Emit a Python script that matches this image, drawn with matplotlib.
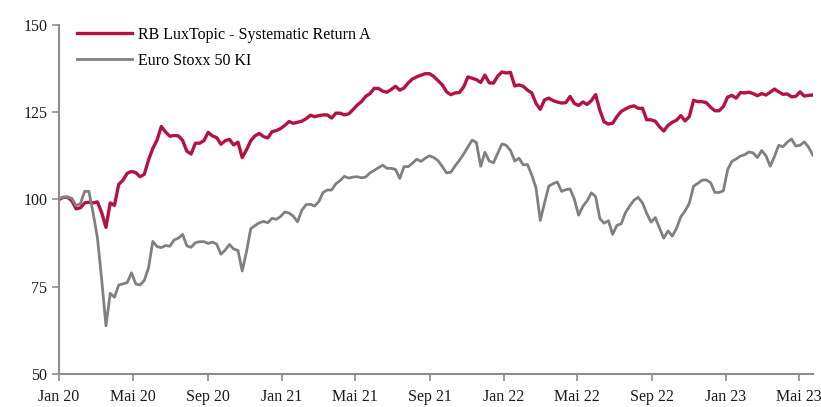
import pandas as pd
import matplotlib.pyplot as plt

# weekly closes, indexed to 100 at start
start = '2020-01-01'

fund = [100.0, 100.6, 100.6, 99.6, 97.3, 97.6, 99.0, 99.2, 99.0, 99.3,
        96.2, 92.0, 99.0, 98.3, 104.3, 105.5, 107.5, 108.0, 107.7, 106.5,
        107.2, 111.3, 114.6, 117.0, 120.9, 119.3, 118.1, 118.3, 118.2, 116.9,
        113.8, 113.0, 116.1, 116.1, 116.8, 119.2, 118.2, 117.7, 115.8, 116.8,
        117.2, 115.6, 116.4, 112.0, 114.2, 116.8, 118.2, 118.9, 118.0, 117.6,
        119.4, 119.7, 120.3, 121.2, 122.3, 121.8, 122.1, 122.4, 123.1, 124.1,
        123.7, 124.0, 124.2, 124.2, 123.3, 124.7, 124.7, 124.2, 124.5, 125.7,
        127.0, 128.0, 129.5, 130.3, 131.8, 131.8, 131.0, 130.7, 131.5, 132.4,
        131.3, 131.9, 133.4, 134.5, 135.1, 135.6, 136.0, 136.0, 135.2, 134.0,
        132.8, 130.8, 130.0, 130.5, 130.6, 132.2, 135.1, 134.7, 134.3, 133.5,
        135.6, 133.4, 133.3, 135.3, 136.5, 136.2, 136.4, 132.5, 132.8, 132.4,
        131.3, 130.5, 127.5, 125.8, 128.5, 129.0, 128.3, 127.9, 127.6, 127.7,
        129.5, 127.5, 126.9, 127.9, 127.2, 128.3, 130.0, 125.5, 122.2, 121.6,
        121.8, 123.7, 125.2, 125.9, 126.5, 126.8, 126.1, 126.1, 122.8, 122.8,
        122.4, 120.8, 119.6, 121.2, 122.1, 122.7, 124.0, 122.5, 123.7, 128.4,
        128.0, 128.0, 127.7, 126.4, 125.4, 125.4, 126.6, 129.3, 129.8, 129.0,
        130.6, 130.5, 130.7, 130.3, 129.7, 130.3, 129.9, 130.7, 131.6, 130.8,
        130.1, 130.2, 129.4, 129.5, 130.8, 129.6, 129.8, 129.9]

stoxx = [100.3, 100.6, 100.7, 100.3, 98.2, 98.8, 102.3, 102.3, 96.0, 89.0,
         77.0, 63.8, 73.1, 72.0, 75.5, 75.8, 76.2, 79.0, 75.8, 75.5,
         76.8, 80.4, 88.0, 86.5, 86.2, 86.8, 86.6, 88.4, 88.9, 90.0,
         86.7, 86.3, 87.6, 87.9, 87.9, 87.4, 87.8, 87.2, 84.3, 85.5,
         87.1, 85.8, 85.4, 79.5, 85.0, 91.6, 92.5, 93.3, 93.7, 93.3,
         94.6, 94.3, 95.1, 96.4, 96.1, 95.2, 93.6, 96.9, 98.5, 98.6,
         98.1, 99.4, 102.0, 102.7, 102.7, 104.5, 105.4, 106.6, 106.1, 106.4,
         106.5, 106.2, 106.4, 107.6, 108.3, 109.1, 109.8, 108.9, 108.9, 108.6,
         106.0, 109.4, 109.4, 110.4, 111.5, 110.9, 111.8, 112.5, 112.0, 111.1,
         109.4, 107.6, 107.8, 109.6, 111.2, 113.0, 115.0, 117.0, 116.3, 109.5,
         113.5, 111.0, 110.5, 113.2, 115.9, 115.5, 114.0, 111.0, 111.8, 109.9,
         110.0, 107.0, 103.3, 94.0, 99.0, 103.8, 104.5, 105.0, 102.3, 102.8,
         103.0, 100.1, 95.5, 98.0, 99.6, 101.9, 100.8, 94.5, 93.2, 93.9,
         90.0, 92.6, 93.0, 96.2, 98.1, 99.8, 100.6, 99.0, 96.0, 93.5,
         94.8, 91.8, 88.9, 91.0, 89.5, 91.7, 95.0, 96.7, 98.9, 103.8,
         104.6, 105.5, 105.6, 104.8, 102.0, 102.0, 102.5, 108.5, 110.9, 111.6,
         112.4, 112.8, 113.6, 113.3, 112.0, 114.0, 112.5, 109.5, 112.3, 115.5,
         115.1, 116.4, 117.3, 115.3, 115.5, 116.5, 115.0, 112.7]

names = ['RB LuxTopic - Systematic Return A', 'Euro Stoxx 50 KI']
months_de = ['Jan', 'Feb', 'Mär', 'Apr', 'Mai', 'Jun',
             'Jul', 'Aug', 'Sep', 'Okt', 'Nov', 'Dez']

dates = pd.date_range(start, periods=len(fund), freq='7D')

plt.rcParams['font.family'] = ['Liberation Serif', 'DejaVu Serif']

fig = plt.figure(figsize=(8.21, 4.07), dpi=100)
ax = fig.add_axes([0.072, 0.081, 0.918, 0.858])

ax.plot(dates, fund, color='#b5133f', lw=2.4, label=names[0])
ax.plot(dates, stoxx, color='#808080', lw=2.0, label=names[1])

ax.set_ylim(50, 150)
ax.set_yticks([50, 75, 100, 125, 150])
ax.set_xlim(dates[0], dates[-1])

ticks = pd.date_range('2020-01-01', '2023-05-01', freq='4MS')
ax.set_xticks(ticks)
ax.set_xticklabels([f"{months_de[d.month - 1]} {d.year % 100:02d}" for d in ticks])

for s in ['top', 'right']:
    ax.spines[s].set_visible(False)
for s in ['left', 'bottom']:
    ax.spines[s].set_color('#8c8c8c')
    ax.spines[s].set_linewidth(1.5)
ax.tick_params(colors='#8c8c8c', width=1.2, length=5, labelcolor='#1a1a1a',
               labelsize=11.5)
ax.tick_params(axis='x', pad=6)

ax.legend(loc='upper left', bbox_to_anchor=(0.005, 1.035), frameon=False,
          fontsize=11.5, handlelength=3.4, handletextpad=0.4, labelspacing=0.62)

fig.savefig('out.png', dpi=100)
